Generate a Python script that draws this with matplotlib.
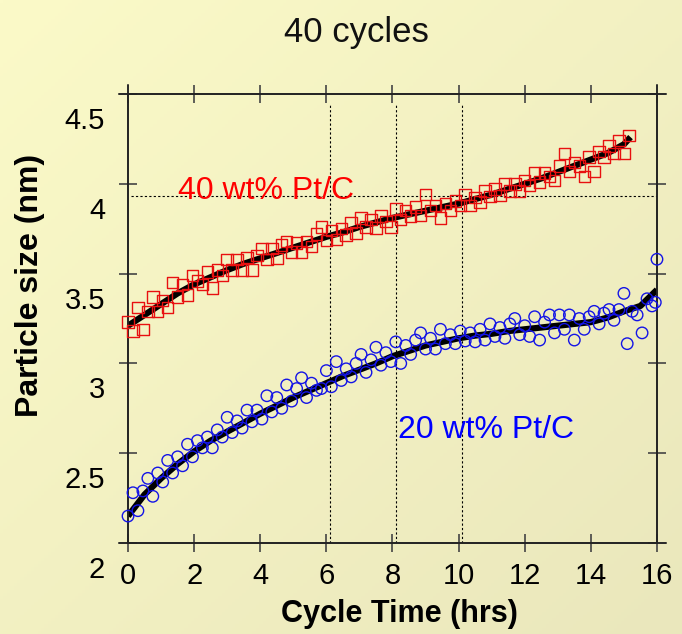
import numpy as np
import matplotlib.pyplot as plt
from matplotlib.transforms import ScaledTranslation

plt.rcParams['font.family'] = ['Liberation Sans', 'DejaVu Sans']

# 40 wt% Pt/C - 측정점
red_x = [0.00, 0.15, 0.30, 0.45, 0.60, 0.75, 0.90, 1.05, 1.20, 1.35, 1.50, 1.65, 1.80, 1.95,
         2.10, 2.25, 2.40, 2.55, 2.70, 2.85, 3.00, 3.15, 3.30, 3.45, 3.60, 3.75, 3.90, 4.05,
         4.20, 4.35, 4.50, 4.65, 4.80, 4.95, 5.10, 5.25, 5.40, 5.55, 5.70, 5.85, 6.00, 6.15,
         6.30, 6.45, 6.60, 6.75, 6.90, 7.05, 7.20, 7.35, 7.50, 7.65, 7.80, 7.95, 8.10, 8.25,
         8.40, 8.55, 8.70, 8.85, 9.00, 9.15, 9.30, 9.45, 9.60, 9.75, 9.90, 10.05, 10.20, 10.35,
         10.50, 10.65, 10.80, 10.95, 11.10, 11.25, 11.40, 11.55, 11.70, 11.85, 12.00, 12.15,
         12.30, 12.45, 12.60, 12.75, 12.90, 13.05, 13.20, 13.35, 13.50, 13.65, 13.80, 13.95,
         14.10, 14.25, 14.40, 14.55, 14.70, 14.85, 15.00, 15.15]
red_y = [3.23, 3.18, 3.31, 3.19, 3.29, 3.37, 3.29, 3.35, 3.31, 3.45, 3.37, 3.44, 3.38, 3.49,
         3.46, 3.44, 3.51, 3.42, 3.52, 3.49, 3.58, 3.52, 3.58, 3.52, 3.59, 3.52, 3.60, 3.64,
         3.58, 3.64, 3.585, 3.66, 3.68, 3.62, 3.67, 3.62, 3.68, 3.65, 3.72, 3.76, 3.685, 3.74,
         3.69, 3.75, 3.715, 3.785, 3.725, 3.81, 3.76, 3.80, 3.755, 3.82, 3.79, 3.76, 3.86, 3.80,
         3.85, 3.82, 3.87, 3.825, 3.94, 3.85, 3.88, 3.81, 3.89, 3.85, 3.905, 3.88, 3.94, 3.88,
         3.925, 3.90, 3.96, 3.93, 3.97, 3.935, 4.00, 3.96, 4.00, 3.96, 4.02, 3.99,
         4.06, 4.01, 4.06, 4.04, 4.02, 4.10, 4.17, 4.07, 4.12, 4.10, 4.04, 4.15,
         4.07, 4.18, 4.15, 4.21, 4.17, 4.24, 4.17, 4.27]

# 40 wt% Pt/C - 피팅 곡선
red_fit_x = [0, 0.5, 1, 1.5, 2, 2.5, 3, 3.5, 4, 4.5, 5, 5.5, 6, 6.5, 7, 7.5, 8, 8.5, 9, 9.5,
             10, 10.5, 11, 11.5, 12, 12.5, 13, 13.5, 14, 14.5, 15, 15.2]
red_fit_y = [3.21, 3.27, 3.33, 3.39, 3.44, 3.48, 3.52, 3.555, 3.585, 3.615, 3.645, 3.675,
             3.705, 3.73, 3.76, 3.785, 3.81, 3.83, 3.85, 3.87, 3.89, 3.915, 3.94, 3.97, 4.0,
             4.03, 4.065, 4.10, 4.135, 4.17, 4.22, 4.26]

# 20 wt% Pt/C - 측정점
blue_x = [0.00, 0.15, 0.30, 0.45, 0.60, 0.75, 0.90, 1.05, 1.20, 1.35, 1.50, 1.65, 1.80, 1.95,
          2.10, 2.25, 2.40, 2.55, 2.70, 2.85, 3.00, 3.15, 3.30, 3.45, 3.60, 3.75, 3.90, 4.05,
          4.20, 4.35, 4.50, 4.65, 4.80, 4.95, 5.10, 5.25, 5.40, 5.55, 5.70, 5.85, 6.00, 6.15,
          6.30, 6.45, 6.60, 6.75, 6.90, 7.05, 7.20, 7.35, 7.50, 7.65, 7.80, 7.95, 8.10, 8.25,
          8.40, 8.55, 8.70, 8.85, 9.00, 9.15, 9.30, 9.45, 9.60, 9.75, 9.90, 10.05, 10.20, 10.35,
          10.50, 10.65, 10.80, 10.95, 11.10, 11.25, 11.40, 11.55, 11.70, 11.85, 12.00, 12.15,
          12.30, 12.45, 12.60, 12.75, 12.90, 13.05, 13.20, 13.35, 13.50, 13.65, 13.80, 13.95,
          14.10, 14.25, 14.40, 14.55, 14.70, 14.85, 15.00, 15.10, 15.25, 15.40, 15.55, 15.70,
          15.85, 15.95, 16.00]
blue_y = [2.15, 2.28, 2.18, 2.29, 2.36, 2.26, 2.39, 2.34, 2.46, 2.39, 2.48, 2.43, 2.55, 2.48,
          2.57, 2.53, 2.59, 2.53, 2.63, 2.59, 2.70, 2.615, 2.68, 2.64, 2.74, 2.675, 2.74, 2.69,
          2.82, 2.73, 2.81, 2.75, 2.88, 2.79, 2.86, 2.92, 2.81, 2.89, 2.85, 2.86, 2.96, 2.87,
          3.01, 2.905, 2.97, 2.925, 3.00, 3.05, 2.95, 3.02, 3.09, 2.99, 3.06, 3.01, 3.12, 3.00,
          3.10, 3.05, 3.13, 3.17, 3.08, 3.14, 3.08, 3.19, 3.11, 3.16, 3.11, 3.18, 3.125, 3.17,
          3.12, 3.19, 3.13, 3.22, 3.15, 3.20, 3.14, 3.22, 3.25, 3.16, 3.21, 3.15,
          3.26, 3.13, 3.23, 3.27, 3.17, 3.27, 3.19, 3.27, 3.13, 3.25, 3.19, 3.26,
          3.29, 3.22, 3.28, 3.30, 3.24, 3.30, 3.39, 3.11, 3.29, 3.27, 3.17, 3.36,
          3.32, 3.34, 3.58]

# 20 wt% Pt/C - 피팅 곡선
blue_fit_x = [0, 0.5, 1, 1.5, 2, 2.5, 3, 3.5, 4, 4.5, 5, 5.5, 6, 6.5, 7, 7.5, 8, 8.5, 9, 9.5,
              10, 10.5, 11, 11.5, 12, 12.5, 13, 13.5, 14, 14.5, 15, 15.5, 16]
blue_fit_y = [2.15, 2.27, 2.36, 2.44, 2.51, 2.57, 2.62, 2.67, 2.72, 2.765, 2.81, 2.85, 2.89,
              2.93, 2.965, 3.0, 3.04, 3.07, 3.10, 3.12, 3.14, 3.155, 3.165, 3.18, 3.19, 3.20,
              3.21, 3.22, 3.23, 3.255, 3.29, 3.32, 3.41]

x_ticks = [0, 2, 4, 6, 8, 10, 12, 14, 16]
y_ticks = [2, 2.5, 3, 3.5, 4, 4.5]
y_tick_labels = ['2', '2.5', '3', '3.5', '4', '4.5']
guide_x = [6.1, 8.1, 10.1]
guide_y = 3.93

fig = plt.figure(figsize=(6.82, 6.34), dpi=100)

# 배경 그라데이션
bg = fig.add_axes([0, 0, 1, 1], zorder=-1)
gx, gy = np.meshgrid(np.linspace(0, 1, 200), np.linspace(0, 1, 200))
t = (gx + gy) / 2
c0 = np.array([251, 250, 200]) / 255
c1 = np.array([234, 231, 188]) / 255
img = c0[None, None, :] * (1 - t[..., None]) + c1[None, None, :] * t[..., None]
bg.imshow(img, aspect='auto', extent=[0, 1, 0, 1])
bg.axis('off')

ax = fig.add_axes([0.1877, 0.1435, 0.7756, 0.7082])
ax.set_facecolor('none')

for gxv in guide_x:
    ax.plot([gxv, gxv], [2.0, 4.44], color='black', lw=0.8, ls=(0, (2, 2)), zorder=1)
ax.plot([0.1, 16], [guide_y, guide_y], color='black', lw=0.8, ls=(0, (2, 2)), zorder=1)

ax.plot(red_fit_x, red_fit_y, color='black', lw=4.5, zorder=2, solid_capstyle='butt')
ax.plot(blue_fit_x, blue_fit_y, color='black', lw=4.5, zorder=2, solid_capstyle='butt')
ax.scatter(red_x, red_y, marker='s', s=68, facecolors='none', edgecolors='#E81010',
           linewidths=1.0, zorder=3, clip_on=False)
ax.scatter(blue_x, blue_y, marker='o', s=68, facecolors='none', edgecolors='#1414E6',
           linewidths=1.0, zorder=3, clip_on=False)

ax.text(1.5, 3.96, '40 wt% Pt/C', color='#FF0000', fontsize=23, ha='left', va='center')
ax.text(8.17, 2.63, '20 wt% Pt/C', color='#0000FF', fontsize=23, ha='left', va='center')

ax.set_xlim(0, 16)
ax.set_ylim(2, 4.5)
ax.set_xticks(x_ticks)
ax.set_yticks(y_ticks)
ax.set_yticklabels(y_tick_labels)
ax.tick_params(direction='inout', length=13, width=1.2, color='#444444', labelsize=21,
               top=True, right=True)
ax.tick_params(axis='x', pad=7)
ax.tick_params(axis='y', pad=10)
for s in ax.spines.values():
    s.set_linewidth(1.2)
    s.set_color('#222222')

# 눈금 라벨을 아래로 이동 (원본처럼)
shift = ScaledTranslation(0, -24 / 100, fig.dpi_scale_trans)
for lab in ax.get_yticklabels():
    lab.set_transform(lab.get_transform() + shift)

# 축 끝 연장선
ax.plot([-0.017, 1.017], [1, 1], transform=ax.transAxes, color='#222222', lw=1.2, clip_on=False)
ax.plot([-0.017, 1.017], [0, 0], transform=ax.transAxes, color='#222222', lw=1.2, clip_on=False)
ax.plot([0, 0], [0, 1.02], transform=ax.transAxes, color='#222222', lw=1.2, clip_on=False)
ax.plot([1, 1], [0, 1.02], transform=ax.transAxes, color='#222222', lw=1.2, clip_on=False)

fig.text(0.522, 0.948, '40 cycles', fontsize=25, ha='center', va='center', color='#111111')
fig.text(0.585, 0.032, 'Cycle Time (hrs)', fontsize=22, fontweight='bold', ha='center',
         va='center')
fig.text(0.044, 0.55, 'Particle size (nm)', fontsize=23, fontweight='bold', ha='center',
         va='center', rotation=90)

fig.savefig('out.png', dpi=100)
